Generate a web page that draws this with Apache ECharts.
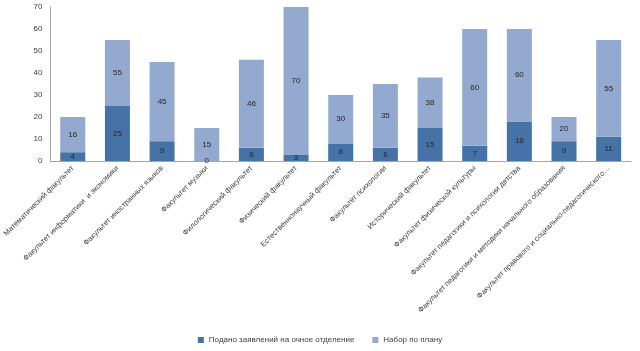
<!DOCTYPE html>
<html>
<head>
<meta charset="utf-8">
<script src="https://cdn.jsdelivr.net/npm/echarts@6/dist/echarts.min.js"></script>
<style>
  html, body { margin: 0; padding: 0; background: #fff; }
  #chart { width: 640px; height: 351px; }
</style>
</head>
<body>
<div id="chart"></div>
<script>
const faculties = [
  'Математический факультет',
  'Факультет информатики  и экономики',
  'Факультет иностранных языков',
  'Факультет музыки',
  'Филологический факультет',
  'Физический факультет',
  'Естественнонаучный факультет',
  'Факультет психологии',
  'Исторический факультет',
  'Факультет физической культуры',
  'Факультет педагогики и психологии детства',
  'Факультет педагогики и методики начального образования',
  'Факультет правового и социально-педагогического…'
]
// applications (dark segment)
const applied = [4, 25, 9, 0, 6, 3, 8, 6, 15, 7, 18, 9, 11]
// plan value shown as label on light segment
const plan = [16, 55, 45, 15, 46, 70, 30, 35, 38, 60, 60, 20, 55]
// top of light bar
const barTop = [20, 55, 45, 15, 46, 70, 30, 35, 38, 60, 60, 20, 55]

const rest = barTop.map((v, i) => v - applied[i])

const chart = echarts.init(document.getElementById('chart'))

const labelStyle = {
  show: true,
  position: 'inside',
  fontSize: 8,
  color: '#262626',
  fontFamily: 'Liberation Sans'
}

chart.setOption({
  animation: false,
  textStyle: { fontFamily: 'Liberation Sans' },
  color: ['#4572A7', '#93A9CF'],
  grid: { left: 50, right: 9, top: 7, bottom: 190 },
  legend: {
    bottom: 2,
    left: 'center',
    itemWidth: 6,
    itemHeight: 6,
    itemGap: 18,
    icon: 'rect',
    textStyle: { fontSize: 8, color: '#404040' },
    data: ['Подано заявлений на очное отделение', 'Набор по плану']
  },
  xAxis: {
    type: 'category',
    data: faculties,
    axisLine: { lineStyle: { color: '#a6a6a6' } },
    axisTick: { show: false },
    axisLabel: {
      interval: 0,
      rotate: 45,
      fontSize: 7.5,
      color: '#404040',
      margin: 6
    }
  },
  yAxis: {
    type: 'value',
    min: 0,
    max: 70,
    interval: 10,
    axisLine: { show: true, lineStyle: { color: '#a6a6a6' } },
    axisTick: { show: false },
    splitLine: { show: false },
    axisLabel: { fontSize: 8, color: '#404040', margin: 8 }
  },
  series: [
    {
      name: 'Подано заявлений на очное отделение',
      type: 'bar',
      stack: 'total',
      barWidth: 25,
      data: applied,
      label: labelStyle
    },
    {
      name: 'Набор по плану',
      type: 'bar',
      stack: 'total',
      barWidth: 25,
      data: rest,
      label: Object.assign({}, labelStyle, {
        formatter: p => plan[p.dataIndex]
      })
    }
  ]
})
</script>
</body>
</html>
